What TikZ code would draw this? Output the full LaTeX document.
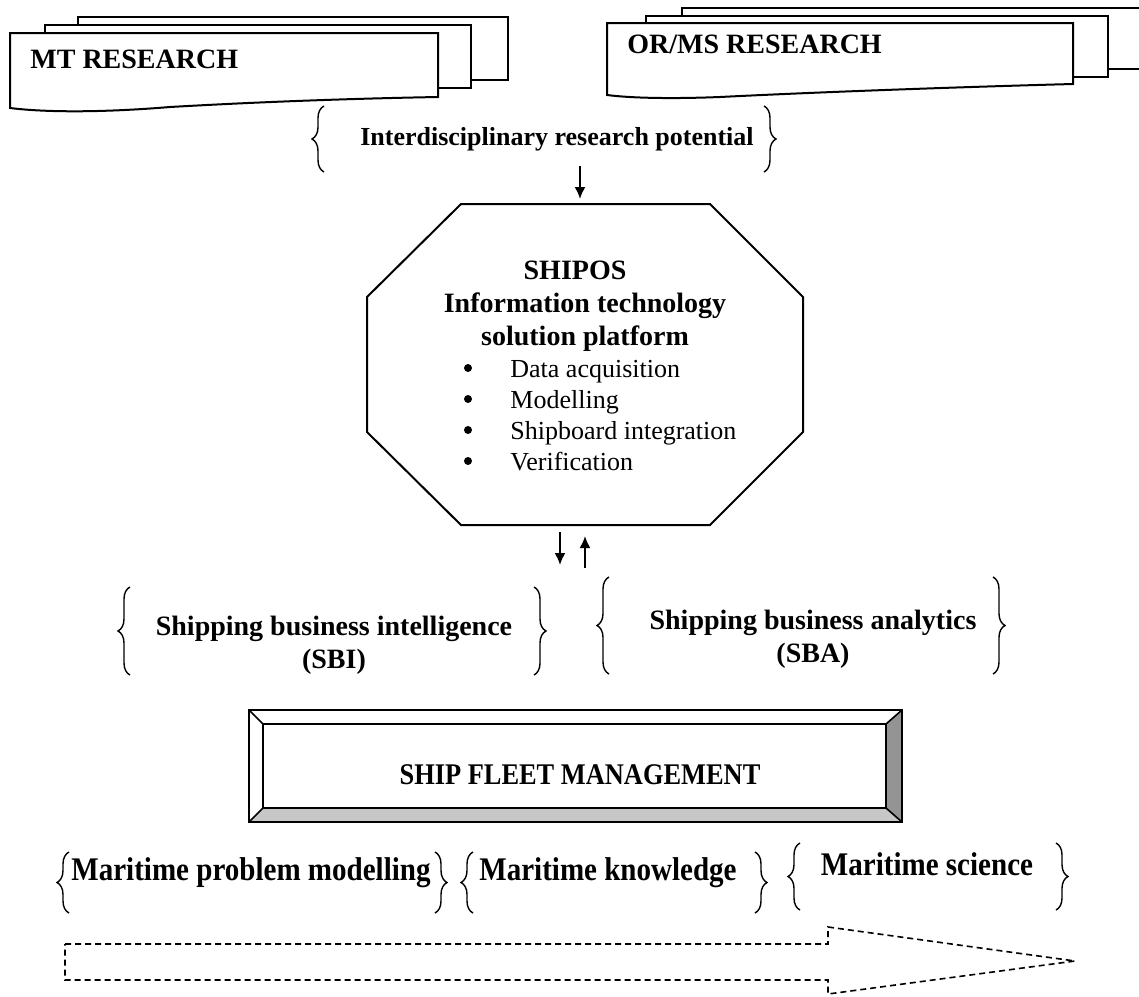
\documentclass[tikz,border=0pt]{standalone}
\usepackage{fontspec}
\setmainfont{Liberation Serif}
\newfontfamily\condfont[FakeStretch=0.88]{Liberation Serif}
\usetikzlibrary{decorations.pathreplacing, arrows.meta}

\begin{document}
\begin{tikzpicture}[x=0.5pt,y=-0.5pt]
    % Ship fleet management frame: research sources feed the SHIPOS platform,
    % which feeds intelligence/analytics and the maritime knowledge chain.

    \tikzset{
      frame/.style={line width=1pt, fill=white},
      head/.style={font=\fontsize{14}{16.5}\selectfont\bfseries, align=center, inner sep=0pt},
      item/.style={font=\fontsize{13}{15.5}\selectfont, inner sep=0pt},
      chain/.style={font=\condfont\fontsize{16.5}{18}\selectfont\bfseries, inner sep=0pt, anchor=base},
      dot/.style={circle, fill, inner sep=0pt, minimum size=4pt},
      curly/.style={decorate, decoration={brace, amplitude=6pt}, line width=0.7pt},
      arr/.style={-{Latex[length=6pt,width=5.5pt]}, line width=1pt},
      flow/.style={dash pattern=on 3pt off 2pt, line width=0.8pt}
    }

    \useasboundingbox (0,0) rectangle (1139,996);

    % --- Research sources (stacked documents)
    \draw[frame] (78,17) rectangle (508,80);
    \draw[frame] (45,25) rectangle (471,88);
    \draw[frame] (10,33) -- (438,33) -- (438,97)
      .. controls (330,99) and (240,103) .. (170,107)
      .. controls (110,112) and (50,113) .. (10,108) -- cycle;
    \node[head, anchor=west] (mt) at (30,59) {MT RESEARCH};

    \draw[frame] (682,8) rectangle (1150,69);
    \draw[frame] (646,16) rectangle (1108,77);
    \draw[frame] (607,23) -- (1073,23) -- (1073,84)
      .. controls (960,87) and (820,92) .. (720,97)
      .. controls (670,99) and (630,98) .. (607,95) -- cycle;
    \node[head, anchor=west] (orms) at (627,44) {OR/MS RESEARCH};

    % --- Interdisciplinary potential
    \node[head, font=\fontsize{13}{15}\selectfont\bfseries] (irp) at (557,139) {Interdisciplinary research potential};
    \draw[curly] (324,172) -- (324,106);
    \draw[curly] (764,106) -- (764,172);

    % --- SHIPOS platform (octagon)
    \draw[line width=1pt] (461,204) -- (710,204) -- (803,297) -- (803,432)
      -- (710,525) -- (461,525) -- (367,432) -- (367,297) -- cycle;
    \node[head] (shipos) at (585,306) {SHIPOS\hspace*{10pt}\\Information technology\\solution platform};
    \foreach \txt [count=\i] in {Data acquisition, Modelling, Shipboard integration, Verification} {
      \node[item, anchor=base west] (it\i) at (510,346+31*\i) {\txt};
      \node[dot] (bl\i) at (468,337+31*\i) {};
    }

    \coordinate (irpOut) at (580,166);
    \coordinate (shiposIn) at (580,199);
    \draw[arr] (irpOut) -- (shiposIn);

    \coordinate (downTop) at (560,532);
    \coordinate (downTip) at (560,565);
    \coordinate (upFoot) at (585,568);
    \coordinate (upTip) at (585,536);
    \draw[arr] (downTop) -- (downTip);
    \draw[arr] (upFoot) -- (upTip);

    % --- Intelligence and analytics
    \node[head] (sbi) at (334,645) {Shipping business intelligence\\(SBI)};
    \draw[curly] (130,675) -- (130,587);
    \draw[curly] (534,587) -- (534,675);

    \node[head] (sba) at (813,639) {Shipping business analytics\\(SBA)};
    \draw[curly] (609,674) -- (609,577);
    \draw[curly] (993,577) -- (993,674);

    % --- Ship fleet management (bevelled box)
    \fill[black!42] (886,724) -- (902,710) -- (902,822) -- (886,808) -- cycle;
    \fill[black!22] (263,808) -- (886,808) -- (902,822) -- (249,822) -- cycle;
    \draw[line width=1pt] (249,710) rectangle (902,822);
    \draw[line width=0.8pt] (263,724) rectangle (886,808);
    \draw[line width=0.8pt] (249,710) -- (263,724) (902,710) -- (886,724)
      (249,822) -- (263,808) (902,822) -- (886,808);
    \node[head, font=\condfont\fontsize{15}{17}\selectfont\bfseries] (sfm) at (580,775) {SHIP FLEET MANAGEMENT};

    % --- Maritime knowledge chain
    \node[chain] (mpm) at (251,880) {Maritime problem modelling};
    \draw[curly] (69,913) -- (69,852);
    \draw[curly] (435,852) -- (435,913);

    \node[chain] (mk) at (608,880) {Maritime knowledge};
    \draw[curly] (473,913) -- (473,852);
    \draw[curly] (755,852) -- (755,913);

    \node[chain] (ms) at (927,875) {Maritime science};
    \draw[curly] (800,910) -- (800,843);
    \draw[curly] (1056,843) -- (1056,910);

    \draw[flow] (65,944) -- (828,944) -- (828,927) -- (1075,961)
      -- (828,994) -- (828,980) -- (65,980) -- cycle;
  \end{tikzpicture}
\end{document}
